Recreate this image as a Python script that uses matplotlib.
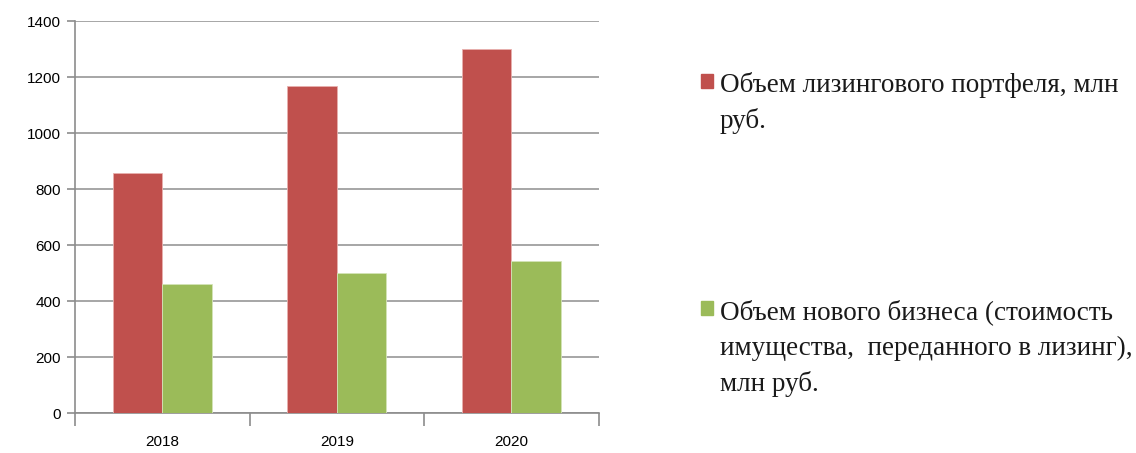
import matplotlib.pyplot as plt
from matplotlib.patches import Rectangle
import numpy as np

years = ['2018', '2019', '2020']
portfolio = [857, 1167, 1300]
new_business = [461, 499, 544]
series_lines = [
    ['Объем лизингового портфеля, млн', 'руб.'],
    ['Объем нового бизнеса (стоимость', 'имущества,  переданного в лизинг),', 'млн руб.'],
]
colors = ['#C0504D', '#9BBB59']

fig = plt.figure(figsize=(11.36, 4.53), dpi=100)
ax = fig.add_axes([0.066, 0.0883, 0.461, 0.8653])

x = np.arange(len(years))
w = 0.283
ax.bar(x - w / 2, portfolio, w, color=colors[0], edgecolor='#e8b0ae', linewidth=0.6, zorder=3)
ax.bar(x + w / 2, new_business, w, color=colors[1], edgecolor='#d4e4b8', linewidth=0.6, zorder=3)

ax.set_xlim(-0.5, 2.5)
ax.set_ylim(0, 1400)
ax.set_yticks(range(0, 1401, 200))
ax.yaxis.grid(True, color='#a6a6a6', linewidth=1.4)
ax.set_axisbelow(True)

ax.set_xticks(x)
ax.set_xticklabels(years)
ax.set_xticks([-0.5, 0.5, 1.5, 2.5], minor=True)
ax.tick_params(axis='x', which='major', length=0, pad=16, labelsize=11)
ax.tick_params(axis='x', which='minor', length=9, width=1.2, color='#8c8c8c')
ax.tick_params(axis='y', length=6, width=1.2, color='#8c8c8c', labelsize=11, pad=4)

for s in ['top', 'right']:
    ax.spines[s].set_visible(False)
for s in ['left', 'bottom']:
    ax.spines[s].set_color('#8c8c8c')
    ax.spines[s].set_linewidth(1.2)
for lbl in ax.get_xticklabels() + ax.get_yticklabels():
    lbl.set_fontfamily('Liberation Sans')

# legend drawn by hand at the right side
W, H = 1136, 453
first_baseline = [92, 319]
for col, lines, by in zip(colors, series_lines, first_baseline):
    fig.patches.append(Rectangle((701 / W, 1 - (by - 4) / H), 12 / W, 14 / H,
                                 transform=fig.transFigure, color=col))
    for i, line in enumerate(lines):
        fig.text(720 / W, 1 - (by + 36 * i) / H, line, family='Liberation Serif',
                 fontsize=19.5, va='baseline', ha='left', color='#1a1a1a')

fig.savefig('out.png', dpi=100)
